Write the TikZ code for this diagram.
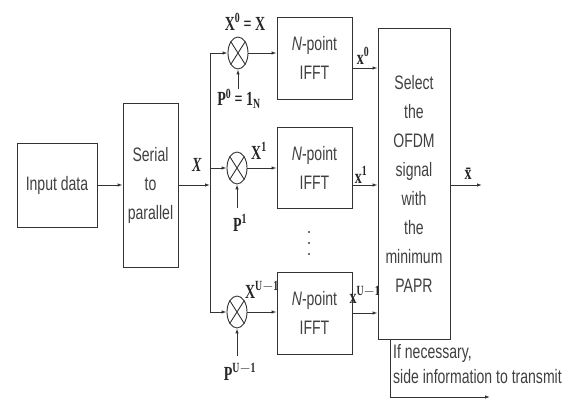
\documentclass[tikz,border=0pt]{standalone}
\usepackage{fontspec}
\setmainfont[FakeStretch=0.72]{Liberation Sans}
\newfontfamily\lbl[FakeStretch=0.7]{Liberation Serif}
\usetikzlibrary{arrows.meta,shapes.geometric}
\begin{document}
\begin{tikzpicture}[x=1pt,y=-1pt,
  ln/.style={draw=black!80,line width=0.9pt},
  arr/.style={ln,-{Latex[length=5pt,width=3.5pt]}},
  blk/.style={ln,rectangle,inner sep=0pt,align=center,text=black!75,
     font=\fontsize{19.5}{29}\selectfont},
  mul/.style={ln,ellipse,minimum width=20pt,minimum height=32pt,inner sep=0pt},
  lab/.style={inner sep=0pt,text=black!85,font=\lbl\bfseries\fontsize{20}{22}\selectfont},
  sml/.style={inner sep=0pt,text=black!75,font=\fontsize{19.5}{24}\selectfont,align=left,anchor=west}
]
\useasboundingbox (0,0) rectangle (566,401);
% blocks
\node[blk,minimum width=80pt,minimum height=84pt] (inp) at (57,185) {Input data};
\node[blk,minimum width=55pt,minimum height=164pt] (sp) at (150.5,185) {Serial\\to\\parallel};
\node[blk,minimum width=75pt,minimum height=82pt] (f0) at (314.5,58) {\textit{N}-point\\IFFT};
\node[blk,minimum width=75pt,minimum height=81pt] (f1) at (314.5,167.5) {\textit{N}-point\\IFFT};
\node[blk,minimum width=75pt,minimum height=82pt] (f2) at (314.5,313) {\textit{N}-point\\IFFT};
\node[blk,minimum width=72pt,minimum height=311pt] (sel) at (414,183.5)
  {Select\\the\\OFDM\\signal\\with\\the\\minimum\\PAPR};
% multipliers
\node[mul] (m0) at (238,53) {};
\node[mul] (m1) at (237,168) {};
\node[mul] (m2) at (237,312) {};
\foreach \m in {m0,m1,m2}{
  \draw[ln] (\m.north east) -- (\m.south west);
  \draw[ln] (\m.north west) -- (\m.south east);
}
% bus
\coordinate (b0) at (210,53);
\coordinate (bx) at (210,185);
\coordinate (b1) at (210,168);
\coordinate (b2) at (210,312);
\draw[ln] (b0) -- (b2);
\draw[arr] (inp.east) -- (inp.east -| sp.west);
\draw[arr] (sp.east) -- (bx);
\draw[arr] (b0) -- (m0.west);
\draw[arr] (b1) -- (m1.west);
\draw[arr] (b2) -- (m2.west);
\draw[arr] (m0.east) -- (m0.east -| f0.west);
\draw[arr] (m1.east) -- (m1.east -| f1.west);
\draw[arr] (m2.east) -- (m2.east -| f2.west);
% IFFT outputs
\coordinate (o0) at (352,68);
\coordinate (o1) at (352,185);
\coordinate (o2) at (352,313);
\draw[arr] (o0) -- (o0 -| sel.west);
\draw[arr] (o1) -- (o1 -| sel.west);
\draw[arr] (o2) -- (o2 -| sel.west);
% P inputs
\coordinate (q0) at (238,89);
\coordinate (q1) at (237,208);
\coordinate (q2) at (237,356);
\draw[arr] (q0) -- (m0.south);
\draw[arr] (q1) -- (m1.south);
\draw[arr] (q2) -- (m2.south);
% output
\coordinate (out) at (482,185);
\draw[arr] (sel.east |- out) -- (out);
% side information
\coordinate (s0) at (390,339);
\coordinate (s1) at (390,397);
\coordinate (s2) at (490,397);
\draw[arr] (s0) -- (s1) -- (s2);
\node[sml] (t1) at (393,353) {If necessary,};
\node[sml] (t2) at (393,377) {side information to transmit};
% labels
\node[lab] (lx) at (197,165) {\textit{X}};
\node[lab] (lx0) at (245,22) {X\textsuperscript{0}\,=\,X};
\node[lab] (lp0) at (239,99) {P\textsuperscript{0}\,=\,1\textsubscript{N}};
\node[lab] (lx1) at (259,151) {X\textsuperscript{1}};
\node[lab] (lp1) at (240,223) {P\textsuperscript{1}};
\node[lab] (lx2) at (262,290) {X\textsuperscript{U$-$1}};
\node[lab] (lp2) at (240,372) {P\textsuperscript{U$-$1}};
\node[lab] (ly0) at (363,56) {x\textsuperscript{0}};
\node[lab] (ly1) at (361,175) {x\textsuperscript{1}};
\node[lab] (ly2) at (365,295) {x\textsuperscript{U$-$1}};
\node[lab] (lyb) at (468,174) {\={x}};
% dots
\foreach \yy [count=\i] in {232,243,254}
  \fill[black!75] (309,\yy) circle (1.2pt) coordinate (d\i);
\end{tikzpicture}
\end{document}
